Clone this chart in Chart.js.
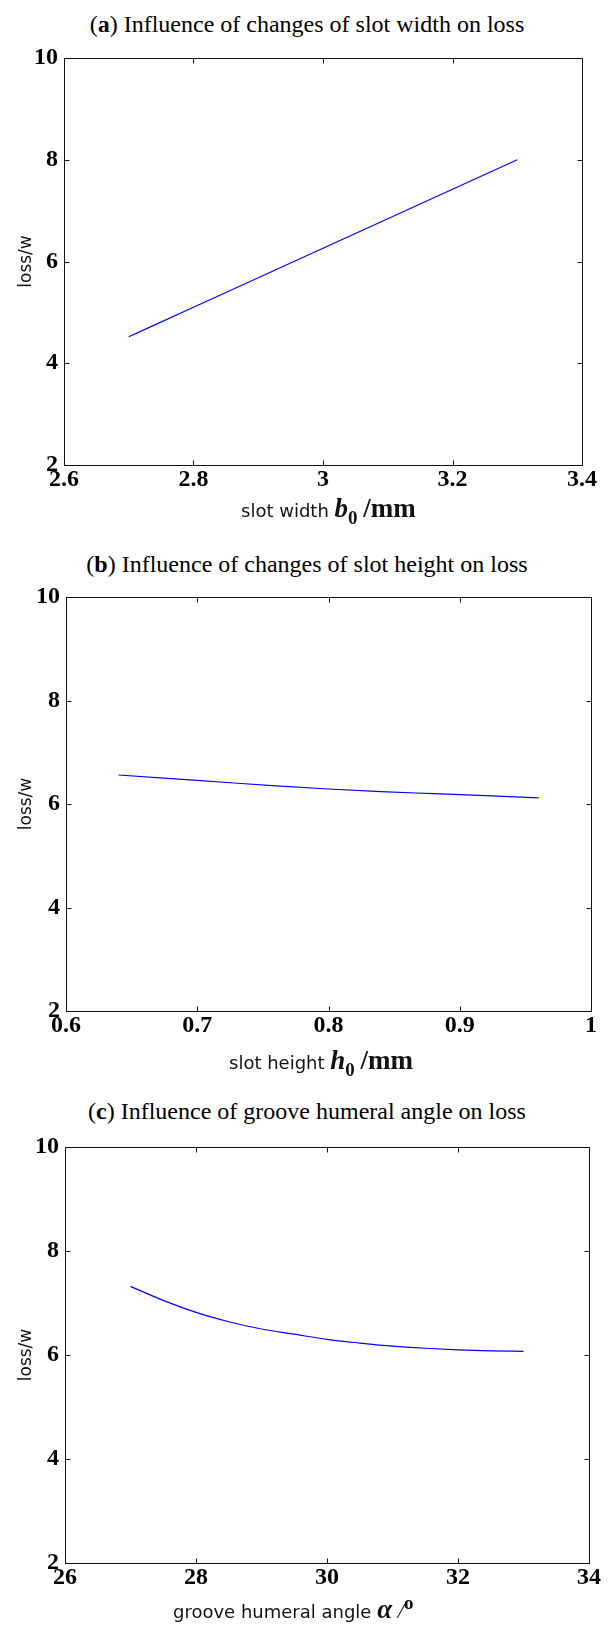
<!DOCTYPE html>
<html>
<head>
<meta charset="utf-8">
<script src="https://cdn.jsdelivr.net/npm/chart.js@4.4.0/dist/chart.umd.min.js"></script>
<style>
  body { margin: 0; background: #fff; width: 614px; height: 1625px; position: relative; overflow: hidden; }
  .ttl { position: absolute; left: 0; width: 614px; text-align: center; line-height: 28px;
         font-family: "Liberation Serif", "Times New Roman", serif; font-size: 24px; color: #000; white-space: nowrap; }
  .xl { position: absolute; line-height: 28px; white-space: nowrap; color: #111;
        font-family: "DejaVu Sans", Verdana, sans-serif; font-size: 18px; }
  .xl b { font-family: "Liberation Serif", "Times New Roman", serif; font-size: 27px; }
  .xl sub { font-size: 19px; vertical-align: -7px; }
  .xl sup { font-size: 19px; vertical-align: 9px; }
  canvas { position: absolute; left: 0; }
</style>
</head>
<body>

<div class="ttl" style="top:10px">(<b>a</b>) Influence of changes of slot width on loss</div>
<canvas id="chartA" width="614" height="470" style="top:30px"></canvas>
<div class="xl" style="top:494px;left:241px">slot width <b><i>b</i><sub>0</sub></b> <b>/mm</b></div>

<div class="ttl" style="top:550px">(<b>b</b>) Influence of changes of slot height on loss</div>
<canvas id="chartB" width="614" height="476" style="top:570px"></canvas>
<div class="xl" style="top:1046px;left:229px">slot height <b><i>h</i><sub>0</sub></b> <b>/mm</b></div>

<div class="ttl" style="top:1097px">(<b>c</b>) Influence of groove humeral angle on loss</div>
<canvas id="chartC" width="614" height="478" style="top:1120px"></canvas>
<div class="xl" style="top:1589px;left:173px">groove humeral angle <b><i>α</i></b> <i style="font-family:'Liberation Serif',serif;font-size:22px">/</i><sup style="font-family:'Liberation Serif',serif;font-weight:bold">o</sup></div>

<script>
// (a) slot width
var widthX = [2.7, 2.8, 2.9, 3.0, 3.1, 3.2, 3.3];
var widthLoss = [4.52, 5.1, 5.68, 6.26, 6.84, 7.42, 8.0];
var widthTicks = [2.6, 2.8, 3.0, 3.2, 3.4];

// (b) slot height
var heightX = [0.64, 0.68, 0.72, 0.76, 0.80, 0.84, 0.88, 0.92, 0.96];
var heightLoss = [6.56, 6.49, 6.42, 6.35, 6.29, 6.24, 6.20, 6.16, 6.12];
var heightTicks = [0.6, 0.7, 0.8, 0.9, 1.0];

// (c) groove humeral angle
var angleX = [27, 27.5, 28, 28.5, 29, 29.5, 30, 30.5, 31, 31.5, 32, 32.5, 33];
var angleLoss = [7.32, 7.05, 6.82, 6.64, 6.5, 6.4, 6.3, 6.23, 6.17, 6.13, 6.1, 6.08, 6.07];
var angleTicks = [26, 28, 30, 32, 34];

var lossTicks = [2, 4, 6, 8, 10];

// box round the plot with inward tick marks, matlab style
var boxTicks = {
  id: 'boxTicks',
  afterDraw: function (chart) {
    var ctx = chart.ctx, a = chart.chartArea;
    var sx = chart.scales.x, sy = chart.scales.y;
    var l = Math.round(a.left) + 0.5, r = Math.round(a.right) + 0.5;
    var t = Math.round(a.top) + 0.5, b = Math.round(a.bottom) + 0.5;
    ctx.save();
    ctx.strokeStyle = '#111';
    ctx.lineWidth = 1;
    ctx.strokeRect(l, t, r - l, b - t);
    ctx.beginPath();
    sx.ticks.forEach(function (tk) {
      var px = Math.round(sx.getPixelForValue(tk.value)) + 0.5;
      ctx.moveTo(px, b); ctx.lineTo(px, b - 5);
      ctx.moveTo(px, t); ctx.lineTo(px, t + 5);
    });
    sy.ticks.forEach(function (tk) {
      var py = Math.round(sy.getPixelForValue(tk.value)) + 0.5;
      ctx.moveTo(l, py); ctx.lineTo(l + 5, py);
      ctx.moveTo(r, py); ctx.lineTo(r - 5, py);
    });
    ctx.stroke();
    ctx.restore();
  }
};

function makeChart(id, xs, ys, xTicks, xMin, xMax, yWidth, padTop, padRight) {
  var pts = xs.map(function (x, i) { return { x: x, y: ys[i] }; });
  var tickFont = { family: '"Liberation Serif", "Times New Roman", serif', size: 24, weight: 'bold' };
  return new Chart(document.getElementById(id).getContext('2d'), {
    type: 'scatter',
    data: {
      datasets: [{
        data: pts,
        showLine: true,
        borderColor: '#0000ff',
        borderWidth: 1.2,
        pointRadius: 0,
        cubicInterpolationMode: 'monotone'
      }]
    },
    options: {
      responsive: false,
      animation: false,
      layout: { padding: { top: padTop, right: padRight, left: 0, bottom: 0 } },
      plugins: { legend: { display: false }, tooltip: { enabled: false } },
      scales: {
        x: {
          type: 'linear',
          min: xMin,
          max: xMax,
          afterBuildTicks: function (s) { s.ticks = xTicks.map(function (v) { return { value: v }; }); },
          afterFit: function (s) { s.height = 35; },
          grid: { display: false, drawTicks: false },
          border: { display: false },
          ticks: {
            color: '#000',
            font: tickFont,
            padding: 0,
            maxRotation: 0,
            callback: function (v) { return String(+Number(v).toFixed(2)); }
          }
        },
        y: {
          min: 2,
          max: 10,
          afterBuildTicks: function (s) { s.ticks = lossTicks.map(function (v) { return { value: v }; }); },
          afterFit: function (s) { s.width = yWidth; },
          grid: { display: false, drawTicks: false },
          border: { display: false },
          ticks: {
            color: '#000',
            font: tickFont,
            padding: 6,
            callback: function (v) { return String(v); }
          },
          title: {
            display: true,
            text: 'loss/w',
            color: '#111',
            font: { family: '"DejaVu Sans", Verdana, sans-serif', size: 17 },
            padding: { top: 16, bottom: 0 }
          }
        }
      }
    },
    plugins: [boxTicks]
  });
}

makeChart('chartA', widthX, widthLoss, widthTicks, 2.6, 3.4, 64, 28, 32);
makeChart('chartB', heightX, heightLoss, heightTicks, 0.6, 1.0, 66, 27, 23);
makeChart('chartC', angleX, angleLoss, angleTicks, 26, 34, 65, 27, 25);
</script>
</body>
</html>
